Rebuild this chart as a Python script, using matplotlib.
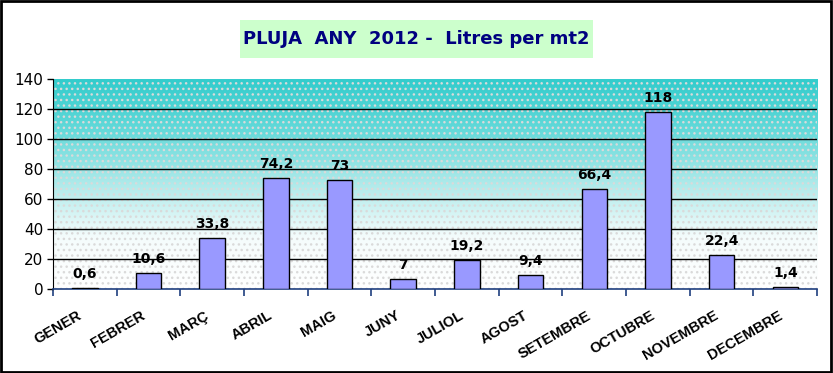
import numpy as np
import matplotlib.pyplot as plt
from matplotlib.patches import Rectangle
from matplotlib.colors import LinearSegmentedColormap

mesos = ['GENER', 'FEBRER', 'MARÇ', 'ABRIL', 'MAIG', 'JUNY', 'JULIOL',
         'AGOST', 'SETEMBRE', 'OCTUBRE', 'NOVEMBRE', 'DECEMBRE']
pluja = [0.6, 10.6, 33.8, 74.2, 73, 7, 19.2, 9.4, 66.4, 118, 22.4, 1.4]
y_ticks = [0, 20, 40, 60, 80, 100, 120, 140]

narrow = ['Liberation Sans Narrow', 'DejaVu Sans']
arial = ['Liberation Sans', 'DejaVu Sans']

fig = plt.figure(figsize=(8.33, 3.73), dpi=100)
fig.patch.set_facecolor('white')
# vora negra de tota la figura
fig.add_artist(Rectangle((0.001, 0.002), 0.997, 0.995, transform=fig.transFigure,
                         fill=False, edgecolor='black', linewidth=2))

ax = fig.add_axes([0.0636, 0.2252, 0.9174, 0.5628])

# fons degradat (blanc a baix, turquesa a dalt)
cmap = LinearSegmentedColormap.from_list(
    'fons', [(0, '#FFFFFF'), (0.25, '#F4FCFC'), (0.5, '#AEEAEA'),
             (0.78, '#5ED8D8'), (1, '#33CCCC')])
grad = np.linspace(0, 1, 256).reshape(-1, 1)
ax.imshow(grad, aspect='auto', cmap=cmap, origin='lower',
          extent=(-0.5, len(mesos) - 0.5, 0, 140), zorder=0)
ax.add_patch(Rectangle((-0.5, 0), len(mesos), 140, fill=False, hatch='...',
                       edgecolor='#DADADA', linewidth=0, zorder=0.5))

x = np.arange(len(mesos))
ax.bar(x, pluja, width=0.4, color='#9999FF', edgecolor='black', linewidth=1, zorder=3)

for xi, v in zip(x, pluja):
    txt = ('%g' % v).replace('.', ',')
    ax.annotate(txt, (xi, v), xytext=(0, 5), textcoords='offset points',
                ha='center', va='bottom', fontsize=10, fontweight='bold',
                family=narrow, zorder=4)

ax.set_xlim(-0.5, len(mesos) - 0.5)
ax.set_ylim(0, 140)
ax.set_yticks(y_ticks)
ax.set_yticklabels([str(t) for t in y_ticks], family=narrow, fontsize=11)
for t in y_ticks[1:-1]:
    ax.axhline(t, color='black', linewidth=1, zorder=1)

# etiquetes una mica a l'esquerra del centre de la barra
ax.set_xticks(x - 0.12)
ax.set_xticklabels(mesos, rotation=30, ha='right', rotation_mode='anchor',
                   fontsize=10.5, fontweight='bold', family=arial)
ax.set_xticks(np.arange(-0.5, len(mesos)), minor=True)
ax.tick_params(axis='x', which='major', length=0, pad=14)
ax.tick_params(axis='x', which='minor', length=5, color='#1F3F7F', width=1.2)
ax.tick_params(axis='y', length=4, width=1, pad=3)

ax.spines['top'].set_visible(False)
ax.spines['right'].set_visible(False)
ax.spines['left'].set_color('black')
ax.spines['bottom'].set_color('#1F3F7F')
ax.spines['bottom'].set_linewidth(1.2)

# caixa del títol
fig.add_artist(Rectangle((240 / 833, 1 - 58 / 373), 353 / 833, 38 / 373,
                         transform=fig.transFigure, facecolor='#CCFFCC',
                         edgecolor='none'))
fig.text(416.5 / 833, 1 - 39 / 373, 'PLUJA  ANY  2012 -  Litres per mt2',
         ha='center', va='center', fontsize=13, fontweight='bold',
         color='#000080', family=narrow)

fig.savefig('out.png', dpi=100)
